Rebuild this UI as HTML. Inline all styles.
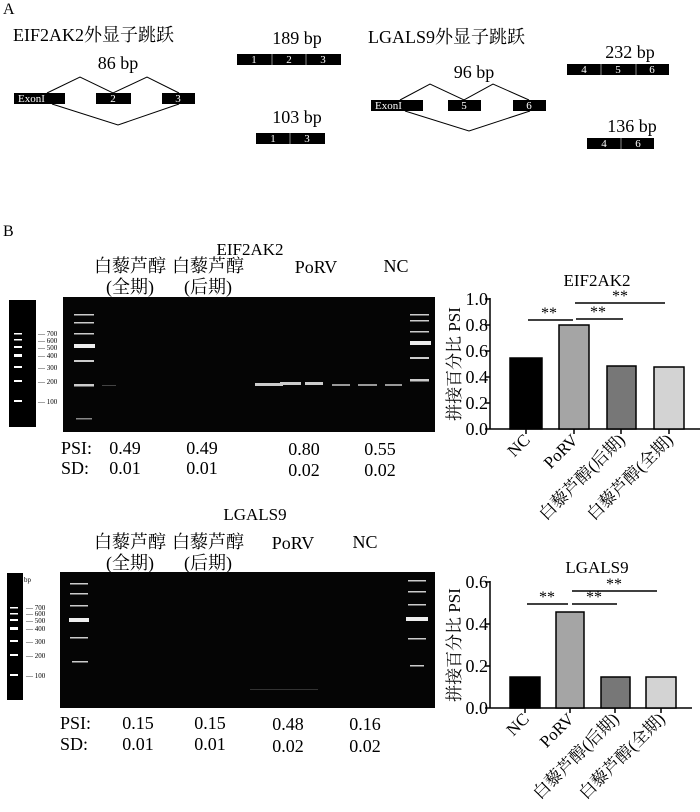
<!DOCTYPE html>
<html><head><meta charset="utf-8"><style>
html,body{margin:0;padding:0;background:#fff}
svg{display:block}
text{font-family:"Liberation Serif","Noto Serif CJK SC",serif;fill:#000}
.w{fill:#fff;font-size:11px}
</style></head><body>
<svg width="700" height="812" viewBox="0 0 700 812">
<!-- Panel A -->
<text x="3" y="14" font-size="16">A</text>
<text x="13" y="41" font-size="18">EIF2AK2外显子跳跃</text>
<text x="118" y="69" font-size="18" text-anchor="middle">86 bp</text>
<g fill="#000">
<rect x="14" y="93" width="51" height="11"/><rect x="96" y="93" width="35" height="11"/><rect x="162" y="93" width="33" height="11"/>
</g>
<text x="18" y="102" class="w">ExonI</text><text x="113" y="102" class="w" text-anchor="middle">2</text><text x="178" y="102" class="w" text-anchor="middle">3</text>
<polyline points="47,93 80,77 113,93 147,77 179,93" fill="none" stroke="#000" stroke-width="1"/>
<polyline points="52,104 118,125 179,104" fill="none" stroke="#000" stroke-width="1"/>
<text x="297" y="44" font-size="18" text-anchor="middle">189 bp</text>
<rect x="237" y="54" width="104" height="11" fill="#000"/>
<line x1="272" y1="54" x2="272" y2="65" stroke="#888"/><line x1="306" y1="54" x2="306" y2="65" stroke="#888"/>
<text x="254" y="63" class="w" text-anchor="middle">1</text><text x="289" y="63" class="w" text-anchor="middle">2</text><text x="323" y="63" class="w" text-anchor="middle">3</text>
<text x="297" y="123" font-size="18" text-anchor="middle">103 bp</text>
<rect x="256" y="133" width="69" height="11" fill="#000"/>
<line x1="290" y1="133" x2="290" y2="144" stroke="#888"/>
<text x="273" y="142" class="w" text-anchor="middle">1</text><text x="307" y="142" class="w" text-anchor="middle">3</text>
<text x="368" y="43" font-size="18">LGALS9外显子跳跃</text>
<text x="474" y="78" font-size="18" text-anchor="middle">96 bp</text>
<rect x="371" y="100" width="52" height="11" fill="#000"/><rect x="448" y="100" width="33" height="11" fill="#000"/><rect x="513" y="100" width="33" height="11" fill="#000"/>
<text x="375" y="109" class="w">ExonI</text><text x="464" y="109" class="w" text-anchor="middle">5</text><text x="529" y="109" class="w" text-anchor="middle">6</text>
<polyline points="400,100 430,84 464,100 493,84 529,100" fill="none" stroke="#000"/>
<polyline points="405,111 469,131 530,111" fill="none" stroke="#000"/>
<text x="630" y="58" font-size="18" text-anchor="middle">232 bp</text>
<rect x="567" y="64" width="102" height="11" fill="#000"/>
<line x1="601" y1="64" x2="601" y2="75" stroke="#888"/><line x1="636" y1="64" x2="636" y2="75" stroke="#888"/>
<text x="584" y="73" class="w" text-anchor="middle">4</text><text x="618" y="73" class="w" text-anchor="middle">5</text><text x="652" y="73" class="w" text-anchor="middle">6</text>
<text x="632" y="132" font-size="18" text-anchor="middle">136 bp</text>
<rect x="587" y="138" width="67" height="11" fill="#000"/>
<line x1="621" y1="138" x2="621" y2="149" stroke="#888"/>
<text x="604" y="147" class="w" text-anchor="middle">4</text><text x="638" y="147" class="w" text-anchor="middle">6</text>

<!-- Panel B -->
<text x="3" y="236" font-size="16">B</text>
<!-- EIF2AK2 gel -->
<text x="250" y="255" font-size="17" text-anchor="middle">EIF2AK2</text>
<text x="130" y="272" font-size="18" text-anchor="middle">白藜芦醇</text>
<text x="130" y="293" font-size="18" text-anchor="middle">(全期)</text>
<text x="208" y="272" font-size="18" text-anchor="middle">白藜芦醇</text>
<text x="208" y="293" font-size="18" text-anchor="middle">(后期)</text>
<text x="316" y="273" font-size="18" text-anchor="middle">PoRV</text>
<text x="396" y="272" font-size="18" text-anchor="middle">NC</text>
<rect x="9" y="300" width="27" height="127" fill="#000"/>
<g fill="#fff"><rect x="14" y="333" width="8" height="1.5"/><rect x="14" y="339" width="8" height="1.5"/><rect x="14" y="346" width="8" height="2"/><rect x="14" y="354" width="8" height="3"/><rect x="14" y="366" width="8" height="2"/><rect x="14" y="380" width="8" height="2"/><rect x="14" y="400" width="8" height="2"/></g>
<g font-size="7"><text x="27" y="308">bp</text><text x="38" y="336">— 700</text><text x="38" y="343">— 600</text><text x="38" y="350">— 500</text><text x="38" y="358">— 400</text><text x="38" y="370">— 300</text><text x="38" y="384">— 200</text><text x="38" y="404">— 100</text></g>
<rect x="63" y="297" width="372" height="135" fill="#050505"/>
<g fill="#ccc"><rect x="74" y="314" width="20" height="1.5"/><rect x="74" y="322" width="20" height="1.5"/><rect x="74" y="333" width="20" height="1.5"/><rect x="74" y="344" width="21" height="4" fill="#eee"/><rect x="74" y="360" width="20" height="2"/><rect x="74" y="384" width="20" height="2.5"/><rect x="76" y="418" width="16" height="1.5" fill="#888"/>
<rect x="410" y="314" width="19" height="1.5"/><rect x="410" y="320" width="19" height="1.5"/><rect x="410" y="331" width="19" height="1.5"/><rect x="410" y="341" width="21" height="4" fill="#eee"/><rect x="410" y="357" width="19" height="2"/><rect x="410" y="379" width="19" height="2.5"/>
<rect x="255" y="383" width="28" height="3"/><rect x="280" y="382" width="21" height="3"/><rect x="305" y="382" width="18" height="3"/><rect x="332" y="384" width="18" height="2" fill="#999"/><rect x="358" y="384" width="19" height="2" fill="#999"/><rect x="385" y="384" width="17" height="2" fill="#999"/>
<rect x="102" y="385" width="14" height="1" fill="#444"/></g>
<g font-size="18"><text x="61" y="454">PSI:</text><text x="61" y="474">SD:</text>
<text x="125" y="454" text-anchor="middle">0.49</text><text x="202" y="454" text-anchor="middle">0.49</text><text x="304" y="455" text-anchor="middle">0.80</text><text x="380" y="455" text-anchor="middle">0.55</text>
<text x="125" y="474" text-anchor="middle">0.01</text><text x="202" y="474" text-anchor="middle">0.01</text><text x="304" y="476" text-anchor="middle">0.02</text><text x="380" y="476" text-anchor="middle">0.02</text></g>

<!-- LGALS9 gel -->
<text x="255" y="520" font-size="17" text-anchor="middle">LGALS9</text>
<text x="130" y="548" font-size="18" text-anchor="middle">白藜芦醇</text>
<text x="130" y="569" font-size="18" text-anchor="middle">(全期)</text>
<text x="208" y="548" font-size="18" text-anchor="middle">白藜芦醇</text>
<text x="208" y="569" font-size="18" text-anchor="middle">(后期)</text>
<text x="293" y="549" font-size="18" text-anchor="middle">PoRV</text>
<text x="365" y="548" font-size="18" text-anchor="middle">NC</text>
<rect x="7" y="573" width="16" height="127" fill="#000"/>
<g fill="#fff"><rect x="10" y="607" width="8" height="1.5"/><rect x="10" y="613" width="8" height="1.5"/><rect x="10" y="619" width="8" height="2"/><rect x="10" y="627" width="8" height="3"/><rect x="10" y="640" width="8" height="2"/><rect x="10" y="654" width="8" height="2"/><rect x="10" y="674" width="8" height="2"/></g>
<g font-size="7"><text x="24" y="582">bp</text><text x="26" y="610">— 700</text><text x="26" y="616">— 600</text><text x="26" y="623">— 500</text><text x="26" y="631">— 400</text><text x="26" y="644">— 300</text><text x="26" y="658">— 200</text><text x="26" y="678">— 100</text></g>
<rect x="60" y="572" width="375" height="136" fill="#050505"/>
<g fill="#ccc"><rect x="70" y="583" width="18" height="1.5"/><rect x="70" y="593" width="18" height="1.5"/><rect x="70" y="605" width="18" height="1.5"/><rect x="69" y="618" width="20" height="4" fill="#eee"/><rect x="70" y="637" width="18" height="1.5"/><rect x="72" y="661" width="16" height="1.5"/>
<rect x="408" y="580" width="18" height="1.5"/><rect x="408" y="591" width="18" height="1.5"/><rect x="408" y="604" width="18" height="1.5"/><rect x="406" y="617" width="22" height="4" fill="#eee"/><rect x="408" y="638" width="18" height="1.5"/><rect x="410" y="665" width="14" height="1.5"/>
<rect x="250" y="689" width="68" height="1" fill="#333"/></g>
<g font-size="18"><text x="60" y="729">PSI:</text><text x="60" y="750">SD:</text>
<text x="138" y="729" text-anchor="middle">0.15</text><text x="210" y="729" text-anchor="middle">0.15</text><text x="288" y="730" text-anchor="middle">0.48</text><text x="365" y="730" text-anchor="middle">0.16</text>
<text x="138" y="750" text-anchor="middle">0.01</text><text x="210" y="750" text-anchor="middle">0.01</text><text x="288" y="752" text-anchor="middle">0.02</text><text x="365" y="752" text-anchor="middle">0.02</text></g>

<!-- EIF2AK2 chart -->
<text x="597" y="286" font-size="17" text-anchor="middle">EIF2AK2</text>
<text transform="translate(460,364) rotate(-90)" font-size="17" text-anchor="middle">拼接百分比 PSI</text>
<g stroke="#000" stroke-width="1.5">
<line x1="490" y1="298" x2="490" y2="429"/><line x1="490" y1="429" x2="700" y2="429"/>
<line x1="485" y1="299" x2="490" y2="299"/><line x1="485" y1="325" x2="490" y2="325"/><line x1="485" y1="351" x2="490" y2="351"/><line x1="485" y1="377" x2="490" y2="377"/><line x1="485" y1="403" x2="490" y2="403"/><line x1="485" y1="429" x2="490" y2="429"/>
<line x1="526" y1="429" x2="526" y2="434"/><line x1="574" y1="429" x2="574" y2="434"/><line x1="621" y1="429" x2="621" y2="434"/><line x1="669" y1="429" x2="669" y2="434"/>
</g>
<g font-size="18" text-anchor="end"><text x="488" y="305">1.0</text><text x="488" y="331">0.8</text><text x="488" y="357">0.6</text><text x="488" y="383">0.4</text><text x="488" y="409">0.2</text><text x="488" y="435">0.0</text></g>
<g stroke="#000" stroke-width="1.5">
<rect x="510" y="358" width="32" height="71" fill="#000"/>
<rect x="559" y="325" width="30" height="104" fill="#a5a5a5"/>
<rect x="607" y="366" width="29" height="63" fill="#777"/>
<rect x="654" y="367" width="30" height="62" fill="#d3d3d3"/>
<line x1="528" y1="320" x2="573" y2="320"/><line x1="576" y1="319" x2="623" y2="319"/><line x1="575" y1="303" x2="665" y2="303"/>
</g>
<g font-size="16" text-anchor="middle"><text x="549" y="318">**</text><text x="598" y="317">**</text><text x="620" y="301">**</text></g>
<g font-size="17" text-anchor="end">
<text transform="translate(531,441) rotate(-45)">NC</text>
<text transform="translate(579,441) rotate(-45)">PoRV</text>
<text transform="translate(626,441) rotate(-45)">白藜芦醇(后期)</text>
<text transform="translate(674,441) rotate(-45)">白藜芦醇(全期)</text>
</g>

<!-- LGALS9 chart -->
<text x="597" y="573" font-size="17" text-anchor="middle">LGALS9</text>
<text transform="translate(460,645) rotate(-90)" font-size="17" text-anchor="middle">拼接百分比 PSI</text>
<g stroke="#000" stroke-width="1.5">
<line x1="490" y1="581" x2="490" y2="708"/><line x1="490" y1="708" x2="692" y2="708"/>
<line x1="485" y1="582" x2="490" y2="582"/><line x1="485" y1="624" x2="490" y2="624"/><line x1="485" y1="666" x2="490" y2="666"/><line x1="485" y1="708" x2="490" y2="708"/>
<line x1="525" y1="708" x2="525" y2="713"/><line x1="570" y1="708" x2="570" y2="713"/><line x1="615" y1="708" x2="615" y2="713"/><line x1="661" y1="708" x2="661" y2="713"/>
</g>
<g font-size="18" text-anchor="end"><text x="488" y="588">0.6</text><text x="488" y="630">0.4</text><text x="488" y="672">0.2</text><text x="488" y="714">0.0</text></g>
<g stroke="#000" stroke-width="1.5">
<rect x="510" y="677" width="30" height="31" fill="#000"/>
<rect x="556" y="612" width="28" height="96" fill="#a5a5a5"/>
<rect x="601" y="677" width="29" height="31" fill="#777"/>
<rect x="646" y="677" width="30" height="31" fill="#d3d3d3"/>
<line x1="527" y1="604" x2="568" y2="604"/><line x1="572" y1="604" x2="617" y2="604"/><line x1="572" y1="591" x2="657" y2="591"/>
</g>
<g font-size="16" text-anchor="middle"><text x="547" y="602">**</text><text x="594" y="602">**</text><text x="614" y="589">**</text></g>
<g font-size="17" text-anchor="end">
<text transform="translate(530,720) rotate(-45)">NC</text>
<text transform="translate(575,720) rotate(-45)">PoRV</text>
<text transform="translate(620,720) rotate(-45)">白藜芦醇(后期)</text>
<text transform="translate(666,720) rotate(-45)">白藜芦醇(全期)</text>
</g>
</svg>
</body></html>
